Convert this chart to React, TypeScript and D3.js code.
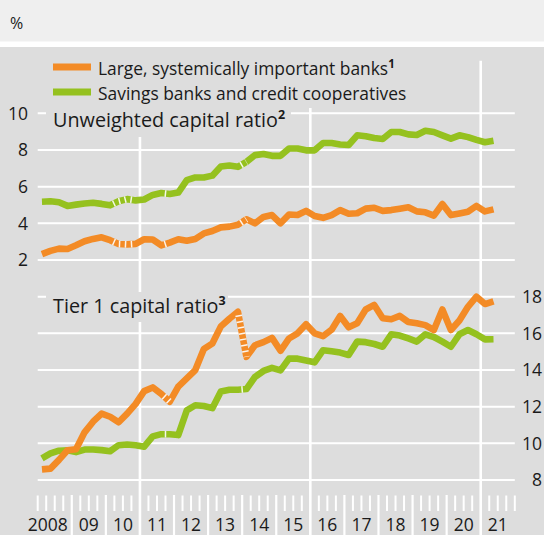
import React from 'react';
import * as d3 from 'd3';

const W = 544;
const H = 535;

// quarterly observations 2008Q1 .. 2021Q2
const quarters = d3.range(2008, 2022)
  .flatMap((y) => [1, 2, 3, 4].map((q) => `${y}Q${q}`))
  .slice(0, 54);

// Unweighted capital ratio (%)
const largeUnweighted = [
  2.32, 2.5, 2.62, 2.6, 2.8, 3.02, 3.15, 3.24, 3.08, 2.87,
  2.85, 2.88, 3.13, 3.12, 2.8, 2.95, 3.13, 3.05, 3.15, 3.45,
  3.58, 3.78, 3.82, 3.92, 4.22, 4.0, 4.35, 4.45, 4.0, 4.48,
  4.45, 4.68, 4.4, 4.3, 4.45, 4.72, 4.52, 4.55, 4.8, 4.85,
  4.68, 4.72, 4.8, 4.88, 4.65, 4.6, 4.42, 5.05, 4.45, 4.54,
  4.63, 4.95, 4.65, 4.76
];
const savingsUnweighted = [
  5.18, 5.2, 5.15, 4.95, 5.02, 5.08, 5.12, 5.06, 4.98, 5.2,
  5.32, 5.25, 5.3, 5.55, 5.65, 5.6, 5.68, 6.35, 6.5, 6.5,
  6.6, 7.1, 7.15, 7.08, 7.35, 7.72, 7.78, 7.68, 7.68, 8.08,
  8.08, 7.98, 7.98, 8.38, 8.38, 8.3, 8.27, 8.8, 8.75, 8.65,
  8.6, 8.98, 8.98, 8.85, 8.82, 9.05, 8.98, 8.8, 8.62, 8.8,
  8.7, 8.55, 8.42, 8.5
];

// Tier 1 capital ratio (%)
const largeTier1 = [
  8.58, 8.62, 9.1, 9.62, 9.68, 10.6, 11.18, 11.62, 11.45, 11.15,
  11.62, 12.15, 12.85, 13.05, 12.7, 12.27, 13.1, 13.55, 14.0, 15.15,
  15.45, 16.38, 16.8, 17.18, 14.72, 15.35, 15.52, 15.75, 15.05, 15.72,
  16.0, 16.5, 16.0, 15.85, 16.2, 16.95, 16.33, 16.55, 17.3, 17.55,
  16.82, 16.77, 16.95, 16.62, 16.55, 16.45, 16.18, 17.3, 16.18, 16.7,
  17.45, 18.0, 17.6, 17.75
];
const savingsTier1 = [
  9.18, 9.45, 9.6, 9.62, 9.52, 9.66, 9.66, 9.63, 9.57, 9.9,
  9.94, 9.9, 9.82, 10.38, 10.5, 10.5, 10.45, 11.8, 12.08, 12.04,
  11.92, 12.83, 12.92, 12.92, 12.96, 13.62, 13.95, 14.12, 13.98, 14.62,
  14.62, 14.52, 14.42, 15.08, 15.02, 14.95, 14.82, 15.55, 15.52, 15.42,
  15.27, 15.95, 15.88, 15.72, 15.55, 15.95, 15.8, 15.55, 15.27, 15.95,
  16.18, 15.95, 15.67, 15.68
];

// quarters from which the line to the next quarter is broken (dashed)
const unweightedBreaks = ['2010Q1', '2010Q2', '2010Q3', '2011Q3', '2013Q4'];
const tier1Breaks = ['2011Q3', '2013Q4'];

const upperTicks = [2, 4, 6, 8, 10];
const lowerTicks = [8, 10, 12, 14, 16, 18];
const yearLabels = ['2008', '09', '10', '11', '12', '13', '14', '15', '16', '17', '18', '19', '20', '21'];
const markerYears = [2011, 2016, 2021];

const ORANGE = '#f38b26';
const GREEN = '#95c11f';
const PANEL = '#dddddd';
const TEXT = '#1a1a1a';
const FONT = '"Open Sans", "DejaVu Sans", sans-serif';

const qDate = (s: string) => +s.slice(0, 4) + (+s.slice(5) - 0.5) / 4;

const x = d3.scaleLinear().domain([2008, 2022]).range([37.7, 514.8]);
const yUp = d3.scaleLinear().domain([2, 10]).range([260, 113.3]);
const yLow = d3.scaleLinear().domain([8, 18]).range([480, 296.7]);

// group consecutive broken segments into runs of points
function brokenRuns(breaks: string[]) {
  const idx = breaks.map((b) => quarters.indexOf(b)).sort((a, b) => a - b);
  const runs: number[][] = [];
  let cur: number[] = [];
  idx.forEach((i) => {
    if (cur.length && cur[cur.length - 1] === i) cur.push(i + 1);
    else {
      if (cur.length) runs.push(cur);
      cur = [i, i + 1];
    }
  });
  if (cur.length) runs.push(cur);
  return runs;
}

const Series: React.FC<{ values: number[]; y: d3.ScaleLinear<number, number>; color: string; breaks: string[] }> = ({ values, y, color, breaks }) => {
  const line = d3.line<number>()
    .x((_, i) => x(qDate(quarters[i])))
    .y((d) => y(d));
  const gap = d3.line<number>()
    .x((i) => x(qDate(quarters[i])))
    .y((i) => y(values[i]));
  return (
    <g>
      <path d={line(values) || ''} fill="none" stroke={color} strokeWidth={6.6} strokeLinejoin="round" />
      {brokenRuns(breaks).map((r, k) => (
        <path key={k} d={gap(r) || ''} fill="none" stroke="#ffffff" strokeWidth={6.6}
          strokeDasharray="1.5,4.5" strokeDashoffset={2.5} opacity={0.9} />
      ))}
    </g>
  );
};

const App: React.FC = () => {
  const gx0 = x(2008);
  const gx1 = x(2022);
  const allQ = d3.range(0, 57).map((i) => 2008 + i / 4);
  const shortTicks = allQ.filter((d) => Math.abs(d - Math.round(d)) > 0.01 || d === 2008 || d === 2022);
  const longTicks = d3.range(2009, 2022).filter((d) => !markerYears.includes(d));

  return (
    <svg width={W} height={H} style={{ position: 'absolute', left: 0, top: 0, display: 'block' }} fontFamily={FONT}>
      <rect x={0} y={0} width={W} height={H} fill="#ffffff" />
      <rect x={0} y={0} width={W} height={41.5} fill="#efefef" />
      <rect x={0} y={47} width={W} height={H - 47} fill={PANEL} />
      <text x={10} y={29} fontSize={16} fill={TEXT}>%</text>

      {/* grid */}
      {upperTicks.map((t) => (
        <line key={'u' + t} x1={gx0} x2={gx1} y1={yUp(t)} y2={yUp(t)} stroke="#fff" strokeWidth={2} />
      ))}
      {lowerTicks.map((t) => (
        <line key={'l' + t} x1={gx0} x2={gx1} y1={yLow(t)} y2={yLow(t)} stroke="#fff" strokeWidth={2} />
      ))}
      {markerYears.map((yr) => (
        <line key={'m' + yr} x1={x(yr)} x2={x(yr)} y1={60.7} y2={H} stroke="#fff" strokeWidth={2.6} />
      ))}
      {longTicks.map((yr) => (
        <line key={'y' + yr} x1={x(yr)} x2={x(yr)} y1={495} y2={H} stroke="#fff" strokeWidth={2.2} />
      ))}
      {shortTicks.map((d) => (
        <line key={'q' + d} x1={x(d)} x2={x(d)} y1={495.5} y2={511} stroke="#fff" strokeWidth={2} />
      ))}

      {/* backgrounds behind legend and titles */}
      <rect x={46} y={50} width={369} height={58} fill={PANEL} />
      <rect x={46} y={100} width={245} height={37} fill={PANEL} />
      <rect x={46} y={292} width={182} height={30} fill={PANEL} />

      {/* legend */}
      <rect x={53} y={63.5} width={38} height={7} fill={ORANGE} />
      <text x={98} y={75} fontSize={17.4} fill={TEXT}>
        Large, systemically important banks<tspan fontSize={11.5} dy={-7.5} fontWeight="bold">1</tspan>
      </text>
      <rect x={53} y={88.5} width={38} height={7} fill={GREEN} />
      <text x={98} y={99.5} fontSize={17.4} fill={TEXT}>Savings banks and credit cooperatives</text>

      {/* titles */}
      <text x={53} y={127} fontSize={19.8} fill={TEXT}>
        Unweighted capital ratio<tspan fontSize={12.5} dy={-8.5} fontWeight="bold">2</tspan>
      </text>
      <text x={53} y={313} fontSize={19.8} fill={TEXT}>
        Tier 1 capital ratio<tspan fontSize={12.5} dy={-8.5} fontWeight="bold">3</tspan>
      </text>

      {/* axis labels */}
      {upperTicks.map((t) => (
        <text key={'ul' + t} x={28} y={yUp(t)} dy="0.36em" textAnchor="end" fontSize={17.5} fill={TEXT}>{t}</text>
      ))}
      {lowerTicks.map((t) => (
        <text key={'ll' + t} x={542} y={yLow(t)} dy="0.36em" textAnchor="end" fontSize={17.5} fill={TEXT}>{t}</text>
      ))}
      {yearLabels.map((lab, i) => (
        <text key={'yl' + lab} x={i === 0 ? x(2009) - 4 : x(2008 + i + 0.5)} y={531}
          textAnchor={i === 0 ? 'end' : 'middle'} fontSize={17.5} fill={TEXT}>{lab}</text>
      ))}

      {/* series */}
      <Series values={savingsUnweighted} y={yUp} color={GREEN} breaks={unweightedBreaks} />
      <Series values={largeUnweighted} y={yUp} color={ORANGE} breaks={unweightedBreaks} />
      <Series values={savingsTier1} y={yLow} color={GREEN} breaks={tier1Breaks} />
      <Series values={largeTier1} y={yLow} color={ORANGE} breaks={tier1Breaks} />
    </svg>
  );
};

export default App;
